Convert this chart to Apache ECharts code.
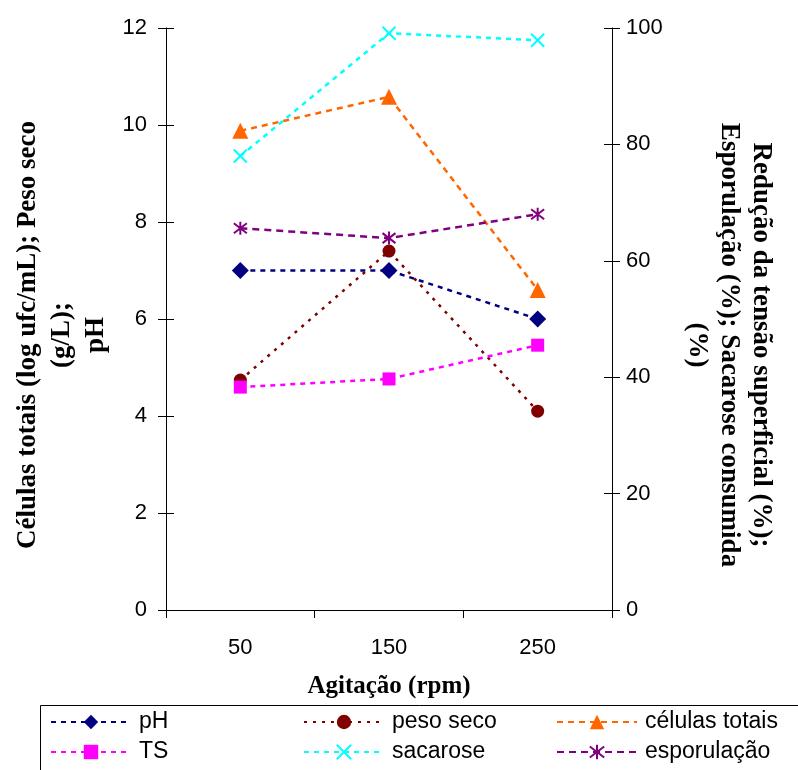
<!DOCTYPE html>
<html><head><meta charset="utf-8">
<script src="https://cdn.jsdelivr.net/npm/echarts@6/dist/echarts.min.js"></script>
<style>html,body{margin:0;padding:0;background:#fff}#c{width:798px;height:770px}</style>
</head><body><div id="c"></div>
<script>
// ---- data ----
const categories = ['50', '150', '250'];
const phValues = [7.0, 7.0, 6.0];
const pesoSecoValues = [4.74, 7.40, 4.10];
const celulasValues = [9.88, 10.58, 6.60];
const tsValues = [38.3, 39.7, 45.5];
const sacaroseValues = [78.0, 99.1, 97.9];
const esporulacaoValues = [65.6, 63.9, 68.0];
const leftAxisTicks = [0, 2, 4, 6, 8, 10, 12];
const rightAxisTicks = [0, 20, 40, 60, 80, 100];
const xTitle = 'Agitação (rpm)';
const leftTitle = 'Células totais (log ufc/mL); Peso seco\n(g/L);\npH';
const rightTitle = 'Redução da tensão superficial (%);\nEsporulação (%); Sacarose consumida\n(%)';

const SANS = '"Liberation Sans", Arial, sans-serif';
const SERIF = '"Liberation Serif", "Times New Roman", serif';

const leftMin = leftAxisTicks[0], leftMax = leftAxisTicks[leftAxisTicks.length - 1];
const leftInt = leftAxisTicks[1] - leftAxisTicks[0];
const rightMin = rightAxisTicks[0], rightMax = rightAxisTicks[rightAxisTicks.length - 1];
const rightInt = rightAxisTicks[1] - rightAxisTicks[0];

function yAx(pos, min, max, interval, inner) {
  return {
    type: 'value', position: pos, min: min, max: max, interval: interval,
    axisLine: { show: !inner, lineStyle: { color: '#000', width: 1 } },
    axisTick: { show: true, inside: inner, length: 8, lineStyle: { color: '#000', width: 1 } },
    axisLabel: { show: !inner, margin: pos === 'left' ? 19 : 14, fontSize: 22, color: '#000', fontFamily: SANS },
    splitLine: { show: false }
  };
}

const X_PATH = 'path://M0,0L10,10M10,0L0,10';
const AST_PATH = 'path://M0,0L10,10M10,0L0,10M5,-1.5L5,11.5';

function ser(name, data, yIdx, color, symbol, size, dash, stroke) {
  return {
    name: name, type: 'line', data: data, yAxisIndex: yIdx,
    symbol: symbol, symbolSize: size,
    lineStyle: { color: color, width: 2.5, type: dash },
    itemStyle: stroke ? { color: 'rgba(0,0,0,0)', borderColor: color, borderWidth: 2 } : { color: color },
    emphasis: { disabled: true },
    animation: false
  };
}

const chart = echarts.init(document.getElementById('c'), null, { renderer: 'canvas' });
chart.setOption({
  backgroundColor: '#fff',
  animation: false,
  grid: { left: 166, right: 186, top: 28, bottom: 160, containLabel: false },
  xAxis: {
    type: 'category', data: categories, boundaryGap: true,
    axisLine: { lineStyle: { color: '#000', width: 1 } },
    axisTick: { show: true, length: 8, alignWithLabel: false, lineStyle: { color: '#000' } },
    axisLabel: { margin: 27, fontSize: 22, color: '#000', fontFamily: SANS },
    name: xTitle, nameLocation: 'middle', nameGap: 64,
    nameTextStyle: { fontSize: 25, fontWeight: 'bold', fontFamily: SERIF, color: '#000' }
  },
  yAxis: [
    yAx('left', leftMin, leftMax, leftInt, false),
    yAx('right', rightMin, rightMax, rightInt, false),
    yAx('left', leftMin, leftMax, leftInt, true),
    yAx('right', rightMin, rightMax, rightInt, true)
  ],
  legend: [
    { data: ['pH', 'TS'], orient: 'vertical', left: 50, top: 710 },
    { data: ['peso seco', 'sacarose'], orient: 'vertical', left: 303, top: 710 },
    { data: ['células totais', 'esporulação'], orient: 'vertical', left: 556, top: 710 }
  ].map(l => Object.assign(l, {
    itemWidth: 80, itemHeight: 18, itemGap: 6, padding: 0,
    textStyle: { fontSize: 23, lineHeight: 24, color: '#000', fontFamily: SANS, padding: [0, 0, 0, 3] },
    selectedMode: false
  })),
  graphic: [
    { type: 'rect', shape: { x: 40.5, y: 705.5, width: 800, height: 80 },
      style: { fill: 'none', stroke: '#000', lineWidth: 1 }, silent: true },
    { type: 'text', x: 62, y: 335, rotation: Math.PI / 2,
      style: { text: leftTitle, fontSize: 27, fontWeight: 'bold', fontFamily: SERIF, fill: '#000',
        align: 'center', verticalAlign: 'middle', lineHeight: 34 } },
    { type: 'text', x: 729, y: 345, rotation: -Math.PI / 2,
      style: { text: rightTitle, fontSize: 27, fontWeight: 'bold', fontFamily: SERIF, fill: '#000',
        align: 'center', verticalAlign: 'middle', lineHeight: 32 } }
  ],
  series: [
    ser('pH', phValues, 0, '#000080', 'diamond', 17, [5, 5], false),
    ser('peso seco', pesoSecoValues, 0, '#800000', 'circle', 13, [3, 6], false),
    ser('células totais', celulasValues, 0, '#FF6600', 'triangle', 16, [6, 5], false),
    ser('TS', tsValues, 1, '#FF00FF', 'rect', 13, [5, 5], false),
    ser('sacarose', sacaroseValues, 1, '#00FFFF', X_PATH, 13, [5, 5], true),
    ser('esporulação', esporulacaoValues, 1, '#800080', AST_PATH, 13, [7, 5], true)
  ]
});
</script>
</body></html>
